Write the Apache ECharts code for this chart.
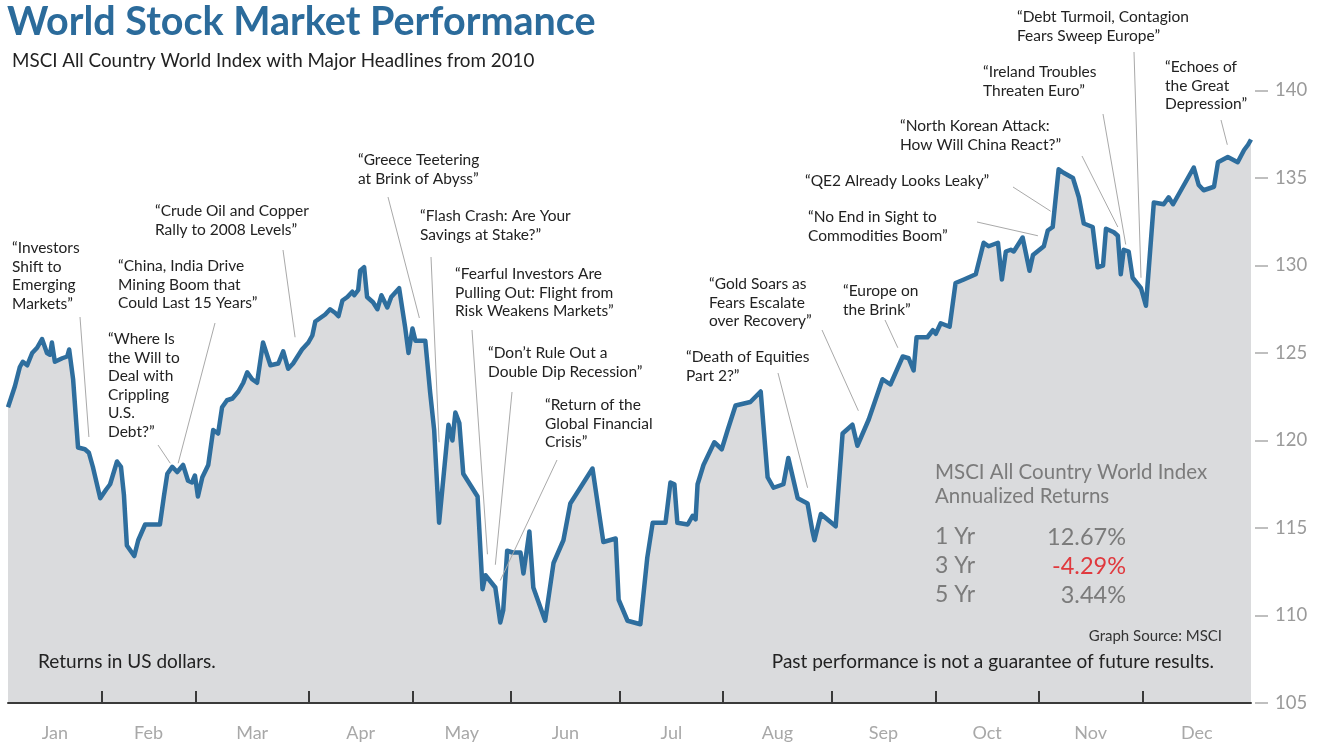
<!DOCTYPE html>
<html>
<head>
<meta charset="utf-8">
<title>World Stock Market Performance</title>
<script src="https://cdn.jsdelivr.net/npm/echarts@6/dist/echarts.min.js"></script>
<style>
  html, body { margin: 0; padding: 0; background: #fff; }
  #chart { width: 1322px; height: 744px; }
</style>
</head>
<body>
<div id="chart"></div>
<script>
// MSCI ACWI level. x = trading day of 2010 (0..252)
const tradingDay = [
  0, 1.4, 2.4, 3.0, 3.9, 4.9, 5.9, 6.9, 7.9, 8.5, 8.9, 9.5, 11.0, 12.0, 12.4, 13.2, 14.2, 15.6, 16.4, 17.2,
  18.7, 19.9, 20.7, 22.1, 22.9, 23.5, 24.1, 25.6, 26.4, 27.8, 30.8, 31.6, 32.3, 33.3, 34.3, 35.5, 36.5, 37.3, 37.9, 38.5,
  39.4, 40.6, 41.6, 42.6, 43.4, 44.4, 45.5, 46.1, 46.7, 47.7, 48.5, 49.5, 50.5, 51.7, 53.2, 54.8, 55.8, 56.8, 57.8, 59.6,
  60.9, 61.7, 62.3, 63.3, 64.3, 65.3, 66.3, 67.0, 67.8, 68.8, 69.8, 70.2, 71.0, 71.4, 72.2, 72.8, 74.0, 74.9, 75.7, 76.9,
  77.7, 79.3, 80.5, 81.2, 82.0, 82.6, 84.6, 85.6, 86.4, 87.4, 89.3, 90.1, 90.7, 91.5, 92.3, 95.2, 96.2, 96.8, 98.8, 99.8,
  100.4, 101.2, 102.3, 103.9, 104.5, 105.7, 106.5, 108.9, 110.6, 112.6, 114.0, 118.5, 120.7, 123.2, 123.8, 125.6, 128.2, 129.6, 130.7, 133.3,
  134.3, 135.1, 135.7, 137.8, 138.8, 139.4, 139.8, 141.0, 143.2, 144.7, 145.9, 147.5, 150.5, 152.6, 154.0, 155.2, 157.2, 158.2, 160.1, 162.1,
  163.1, 163.5, 164.8, 167.8, 169.2, 171.2, 172.2, 174.5, 177.3, 178.9, 181.4, 182.6, 183.6, 184.2, 186.4, 187.5, 188.1, 189.1, 190.9, 192.1,
  193.8, 196.2, 197.8, 198.8, 200.7, 201.5, 202.3, 203.3, 203.9, 205.7, 207.1, 207.8, 210.0, 210.8, 211.8, 213.0, 214.0, 215.9, 217.1, 218.1,
  219.9, 220.9, 222.0, 222.6, 224.2, 225.0, 225.6, 226.2, 227.2, 228.0, 229.7, 230.7, 232.3, 234.3, 235.3, 236.2, 237.8, 240.4, 241.4, 242.4,
  244.5, 245.3, 247.3, 249.3, 250.6, 251.4, 252.0
];
const indexLevel = [
  121.9, 123.1, 124.2, 124.5, 124.3, 125.0, 125.3, 125.8, 125.0, 124.9, 125.6, 124.5, 124.7, 124.8, 125.2, 123.5, 119.6, 119.5, 119.3, 118.5,
  116.7, 117.2, 117.5, 118.8, 118.5, 116.9, 114.0, 113.4, 114.3, 115.2, 115.2, 116.8, 118.1, 118.5, 118.2, 118.6, 117.7, 117.6, 118.0, 116.8,
  117.9, 118.6, 120.6, 120.4, 121.9, 122.3, 122.4, 122.6, 122.8, 123.3, 123.9, 123.5, 123.3, 125.6, 124.3, 124.4, 125.1, 124.1, 124.4, 125.2,
  125.6, 126.0, 126.8, 127.0, 127.2, 127.5, 127.3, 127.1, 128.0, 128.2, 128.5, 128.3, 128.6, 129.7, 129.9, 128.2, 127.9, 127.5, 128.3, 127.6,
  128.2, 128.7, 126.5, 125.0, 126.4, 125.7, 125.7, 122.7, 120.6, 115.3, 120.9, 120.0, 121.6, 121.0, 118.1, 116.8, 111.5, 112.3, 111.6, 109.6,
  110.3, 113.7, 113.6, 113.6, 112.4, 114.8, 111.6, 109.7, 113.0, 114.3, 116.4, 118.4, 114.2, 114.4, 110.9, 109.7, 109.5, 113.3, 115.3, 115.3,
  117.6, 117.5, 115.3, 115.2, 115.7, 115.5, 117.5, 118.6, 119.9, 119.5, 120.6, 122.0, 122.2, 122.8, 117.9, 117.3, 117.5, 119.0, 116.7, 116.4,
  114.8, 114.3, 115.8, 115.1, 120.4, 120.9, 119.7, 121.2, 123.5, 123.2, 124.8, 124.7, 124.0, 125.9, 125.9, 126.3, 126.1, 126.7, 126.5, 129.0,
  129.2, 129.5, 131.3, 131.1, 131.3, 129.2, 130.8, 130.9, 130.8, 131.6, 129.7, 130.6, 131.1, 132.0, 132.2, 135.5, 135.3, 135.0, 133.9, 132.4,
  132.2, 129.9, 130.0, 132.1, 131.9, 131.7, 129.5, 130.9, 130.8, 129.3, 128.7, 127.7, 133.6, 133.5, 133.9, 133.5, 134.3, 135.6, 134.6, 134.3,
  134.5, 135.9, 136.2, 135.9, 136.6, 136.9, 137.2
];

const months = ['Jan', 'Feb', 'Mar', 'Apr', 'May', 'Jun', 'Jul', 'Aug', 'Sep', 'Oct', 'Nov', 'Dec'];
// last trading day of each month (cumulative count)
const monthEnds = [19, 38, 61, 82, 102, 124, 145, 167, 188, 209, 230, 252];

const yMin = 105;
const yMax = 140;
const yStep = 5;

const headlines = [
  '“Investors\nShift to\nEmerging\nMarkets”',
  '“Where Is\nthe Will to\nDeal with\nCrippling\nU.S.\nDebt?”',
  '“China, India Drive\nMining Boom that\nCould Last 15 Years”',
  '“Crude Oil and Copper\nRally to 2008 Levels”',
  '“Greece Teetering\nat Brink of Abyss”',
  '“Flash Crash: Are Your\nSavings at Stake?”',
  '“Fearful Investors Are\nPulling Out: Flight from\nRisk Weakens Markets”',
  '“Don’t Rule Out a\nDouble Dip Recession”',
  '“Return of the\nGlobal Financial\nCrisis”',
  '“Death of Equities\nPart 2?”',
  '“Gold Soars as\nFears Escalate\nover Recovery”',
  '“Europe on\nthe Brink”',
  '“No End in Sight to\nCommodities Boom”',
  '“QE2 Already Looks Leaky”',
  '“North Korean Attack:\nHow Will China React?”',
  '“Ireland Troubles\nThreaten Euro”',
  '“Debt Turmoil, Contagion\nFears Sweep Europe”',
  '“Echoes of\nthe Great\nDepression”'
];
// where each headline's pointer ends (trading day, index level)
const headlineDay = [16.4, 32.9, 34.5, 58.2, 83.4, 87.4, 97.2, 98.8, 99.8, 162.1, 172.4, 180.4, 208.8, 211.4, 225.0, 226.6, 229.7, 247.2];
const headlineLevel = [120.2, 118.7, 118.7, 125.9, 127.0, 119.9, 113.5, 112.9, 112.0, 117.3, 121.7, 125.3, 131.7, 133.1, 132.2, 131.2, 129.3, 136.9];

const returnPeriods = ['1 Yr', '3 Yr', '5 Yr'];
const returnValues = [12.67, -4.29, 3.44];

// ---- layout (pixels) ----
const FONT = 'Lato, "Open Sans", sans-serif';
const headlineText = [
  [12, 248], [108, 339], [118, 266], [155, 211], [358, 160], [420, 216], [455, 274], [488, 353], [545, 405],
  [686, 357], [709, 284], [843, 291], [808, 217], [805, 181], [900, 126], [983, 72], [1017, 17], [1165, 67]
];
const leaderStart = [
  [80, 317], [158, 445], [215, 323], [283, 250], [388, 197], [431, 257], [472, 330], [512, 392], [557, 460],
  [778, 373], [822, 330], [885, 320], [977, 222], [1013, 187], [1082, 156], [1103, 114], [1134, 52], [1221, 120]
];
const LINE_H = 18.5;

const chart = echarts.init(document.getElementById('chart'), null, { renderer: 'canvas' });

const labelSpots = monthEnds.map((end, i) => ((i === 0 ? 0 : monthEnds[i - 1]) + end) / 2);

chart.setOption({
  animation: false,
  backgroundColor: '#ffffff',
  grid: { left: 8, right: 71, top: 90.5, bottom: 41, containLabel: false },
  xAxis: {
    type: 'value',
    z: 5,
    min: 0,
    max: monthEnds[monthEnds.length - 1],
    axisLine: { show: true, onZero: false, lineStyle: { color: '#3a3a3a', width: 2 } },
    axisTick: {
      show: true,
      inside: true,
      length: 12,
      customValues: monthEnds.slice(0, -1),
      lineStyle: { color: '#3a3a3a', width: 2 }
    },
    axisLabel: {
      customValues: labelSpots,
      formatter: (v) => months[labelSpots.indexOf(v)] || '',
      color: '#a8a8a8',
      fontFamily: FONT,
      fontSize: 18,
      margin: 21
    },
    splitLine: { show: false }
  },
  yAxis: {
    type: 'value',
    position: 'right',
    offset: 4,
    min: yMin,
    max: yMax,
    interval: yStep,
    axisLine: { show: false, onZero: false },
    axisTick: { show: true, length: 13, lineStyle: { color: '#aaaaaa', width: 1.5 } },
    axisLabel: { color: '#9a9a9a', fontFamily: FONT, fontSize: 18.5, margin: 20 },
    splitLine: { show: false }
  },
  series: [{
    type: 'line',
    data: tradingDay.map((d, i) => [d, indexLevel[i]]),
    symbol: 'none',
    lineStyle: { color: '#2e6e9e', width: 4.5, join: 'round' },
    areaStyle: { color: '#dadbdd', opacity: 1, origin: 'start' },
    z: 2
  }]
});

const graphics = [];

function addText(x, y, text, size, color, extra) {
  graphics.push(Object.assign({
    type: 'text',
    x: x,
    y: y,
    silent: true,
    z: 10,
    style: Object.assign({
      text: text,
      fill: color,
      fontFamily: FONT,
      fontSize: size,
      align: 'left',
      verticalAlign: 'middle',
      textAlign: 'left',
      textVerticalAlign: 'middle'
    }, extra || {})
  }));
}

// headlines with pointer lines
headlines.forEach((h, i) => {
  const [tx, ty] = headlineText[i];
  addText(tx, ty - LINE_H / 2, h, 15.5, '#222222', {
    verticalAlign: 'top', textVerticalAlign: 'top', lineHeight: LINE_H
  });
  const tip = chart.convertToPixel({ gridIndex: 0 }, [headlineDay[i], headlineLevel[i]]);
  graphics.push({
    type: 'line',
    silent: true,
    z: 9,
    shape: { x1: leaderStart[i][0], y1: leaderStart[i][1], x2: tip[0], y2: tip[1] },
    style: { stroke: '#a9a9a9', lineWidth: 1 }
  });
});

// title block
addText(7, 22, 'World Stock Market Performance', 39.5, '#2b6b9b', { fontWeight: 'bold' });
addText(12, 61, 'MSCI All Country World Index with Major Headlines from 2010', 18.8, '#222222');

// returns box
addText(935, 472, 'MSCI All Country World Index', 20.5, '#7b7b7b');
addText(935, 496, 'Annualized Returns', 20.5, '#7b7b7b');
returnPeriods.forEach((p, i) => {
  const y = 537 + i * 29;
  addText(935, y, p, 23, '#7b7b7b');
  const v = returnValues[i];
  addText(1126, y, v.toFixed(2) + '%', 23.5, v < 0 ? '#e0393e' : '#7b7b7b', { align: 'right', textAlign: 'right' });
});

addText(1222, 636, 'Graph Source: MSCI', 15, '#333333', { align: 'right', textAlign: 'right' });
addText(38, 662, 'Returns in US dollars.', 19, '#222222');
addText(1214, 662, 'Past performance is not a guarantee of future results.', 19, '#222222', { align: 'right', textAlign: 'right' });

chart.setOption({ graphic: { elements: graphics } });
</script>
</body>
</html>
